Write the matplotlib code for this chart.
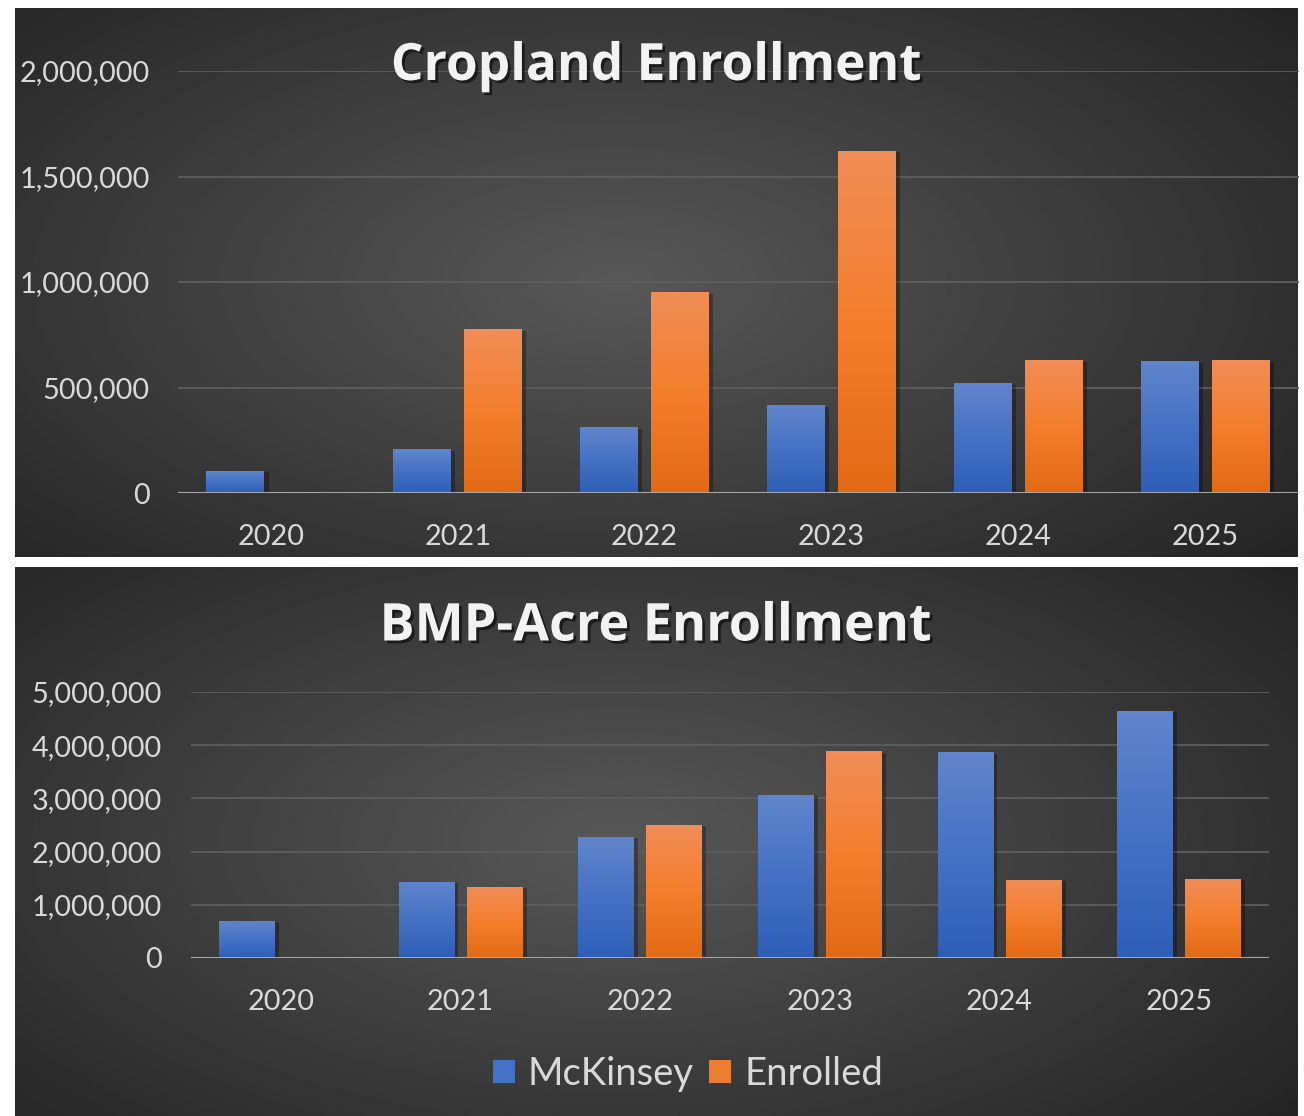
import numpy as np
import matplotlib
matplotlib.use("Agg")
import matplotlib.pyplot as plt
import matplotlib.patheffects as pe
from matplotlib.colors import LinearSegmentedColormap
from matplotlib.patches import Patch

years = ["2020", "2021", "2022", "2023", "2024", "2025"]
crop_mckinsey = [104000, 208000, 312000, 416000, 520000, 624000]
crop_enrolled = [0, 775000, 951000, 1622000, 628000, 628000]
bmp_mckinsey = [695000, 1430000, 2279000, 3068000, 3864000, 4652000]
bmp_enrolled = [0, 1337000, 2507000, 3884000, 1471000, 1484000]
crop_ticks = [0, 500000, 1000000, 1500000, 2000000]
bmp_ticks = [0, 1000000, 2000000, 3000000, 4000000, 5000000]

FONT = "Lato"
TFONT = "Open Sans"
W, H = 1304, 1116
fig = plt.figure(figsize=(W / 100, H / 100), dpi=100)
fig.patch.set_facecolor("white")

blue_cmap = LinearSegmentedColormap.from_list("b", ["#2E5EB8", "#4472C4", "#6185CC"])
orange_cmap = LinearSegmentedColormap.from_list("o", ["#E26A15", "#F47E2C", "#F18D58"])


def panel(rect):
    ax = fig.add_axes(rect)
    ny, nx = 300, 600
    yy, xx = np.mgrid[0:1:ny * 1j, 0:1:nx * 1j]
    d = np.sqrt(((xx - 0.47) / 0.75) ** 2 + ((yy - 0.5) / 0.85) ** 2)
    v = 0.345 - 0.22 * np.clip(d, 0, 1)
    ax.imshow(v, cmap="gray", vmin=0, vmax=1, extent=[0, 1, 0, 1], aspect="auto")
    ax.set_xlim(0, 1)
    ax.set_ylim(0, 1)
    ax.axis("off")
    return ax


def fx(px):
    return px / W


def fy(py):
    return 1 - py / H


panel([fx(15), fy(557), fx(1283), 549 / H])
panel([fx(15), 0, fx(1283), 549 / H])


def chart(rect, mck, enr, ticks, ymax, title, title_y, title_size, xlab_pad, ylab_pad):
    ax = fig.add_axes(rect)
    ax.set_facecolor("none")
    x = np.arange(len(years))
    bw = 0.31
    off = 0.19
    shadow = [pe.SimplePatchShadow(offset=(3, -1), shadow_rgbFace="black", alpha=0.3), pe.Normal()]
    b1 = ax.bar(x - off, mck, bw, color="#4472C4", zorder=3, path_effects=shadow)
    b2 = ax.bar(x + off, enr, bw, color="#ED7D31", zorder=3, path_effects=shadow)
    grad = np.linspace(0, 1, 256).reshape(-1, 1)
    for bars, cm in ((b1, blue_cmap), (b2, orange_cmap)):
        for r in bars:
            h = r.get_height()
            if h <= 0:
                continue
            im = ax.imshow(grad, cmap=cm, extent=[r.get_x(), r.get_x() + r.get_width(), 0, h],
                           aspect="auto", origin="lower", zorder=3.1)
            im.set_clip_path(r)
    ax.set_xlim(-0.5, len(years) - 0.5)
    ax.set_ylim(0, ymax)
    ax.set_yticks(ticks)
    ax.set_yticklabels([f"{t:,}" for t in ticks])
    ax.set_xticks(x)
    ax.set_xticklabels(years)
    for s in ax.spines.values():
        s.set_visible(False)
    ax.grid(axis="y", color="#5E5E5E", linewidth=1.3, zorder=1)
    ax.axhline(0, color="#A6A6A6", linewidth=2.2, zorder=4)
    ax.tick_params(length=0, labelsize=20.8, labelcolor="#D9D9D9")
    ax.tick_params(axis="y", pad=ylab_pad)
    ax.tick_params(axis="x", pad=xlab_pad)
    for lab in ax.get_xticklabels() + ax.get_yticklabels():
        lab.set_fontfamily(FONT)
    fig.text(0.503, fy(title_y), title, ha="center", va="center", fontsize=title_size,
             fontweight="bold", family=TFONT, color="#F2F2F2",
             path_effects=[pe.SimplePatchShadow(offset=(2, -2), shadow_rgbFace="black", alpha=0.55),
                           pe.Normal()])
    return ax


chart([fx(177.5), fy(493), fx(1121), 422 / H], crop_mckinsey, crop_enrolled,
      crop_ticks, 2000000, "Cropland Enrollment", 67, 37, 22, 20)
chart([fx(191), fy(958), fx(1078), 266 / H], bmp_mckinsey, bmp_enrolled,
      bmp_ticks, 5000000, "BMP-Acre Enrollment", 627, 37.5, 22, 21)

handles = [Patch(facecolor="#4472C4", label="McKinsey"), Patch(facecolor="#ED7D31", label="Enrolled")]
fig.legend(handles=handles, loc="center", bbox_to_anchor=(fx(688), fy(1074)), ncol=2,
           frameon=False, prop={"family": FONT, "size": 27.5}, labelcolor="#D9D9D9",
           handlelength=0.58, handleheight=0.58, handletextpad=0.34, columnspacing=0.4)

fig.savefig("out.png", dpi=100, facecolor="white")
